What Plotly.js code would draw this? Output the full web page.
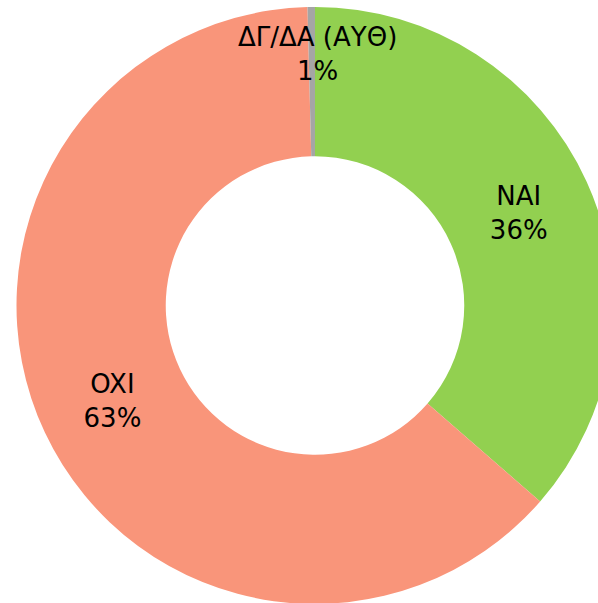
<!DOCTYPE html>
<html>
<head>
<meta charset="utf-8">
<script src="https://cdn.plot.ly/plotly-3.0.1.min.js"></script>
<style>
html,body{margin:0;padding:0;overflow:hidden;background:#fff;}
#chart{width:630px;height:610px;}
</style>
</head>
<body>
<div id="chart"></div>
<script>
const labels = ["NAI", "OXI", "ΔΓ/ΔΑ (ΑΥΘ)"];
const values = [36.4, 63.2, 0.4];
const pctText = ["36%", "63%", "1%"];
const colors = ["#92D050", "#F9957A", "#A5A5A5"];

const trace = {
  type: "pie",
  labels: labels,
  values: values,
  text: pctText,
  texttemplate: ["%{label}<br>%{text}", "%{label}<br>%{text}", ""],
  textinfo: "text",
  textposition: ["inside", "inside", "none"],
  insidetextorientation: "horizontal",
  hole: 0.5,
  sort: false,
  direction: "clockwise",
  rotation: 0,
  marker: { colors: colors, line: { color: "#ffffff", width: 0 } },
  textfont: { family: "DejaVu Sans", size: 26, color: "#000000" },
  showlegend: false,
  hoverinfo: "label+percent"
};

const layout = {
  width: 630,
  height: 610,
  margin: { l: 16, r: 16, t: 7, b: 6 },
  paper_bgcolor: "#ffffff",
  showlegend: false,
  annotations: [{
    text: labels[2] + "<br>" + pctText[2],
    x: 0.505, y: 0.922, xref: "paper", yref: "paper",
    yanchor: "middle",
    showarrow: false,
    font: { family: "DejaVu Sans", size: 26, color: "#000000" }
  }]
};

Plotly.newPlot("chart", [trace], layout, { displayModeBar: false, staticPlot: true });
</script>
</body>
</html>
